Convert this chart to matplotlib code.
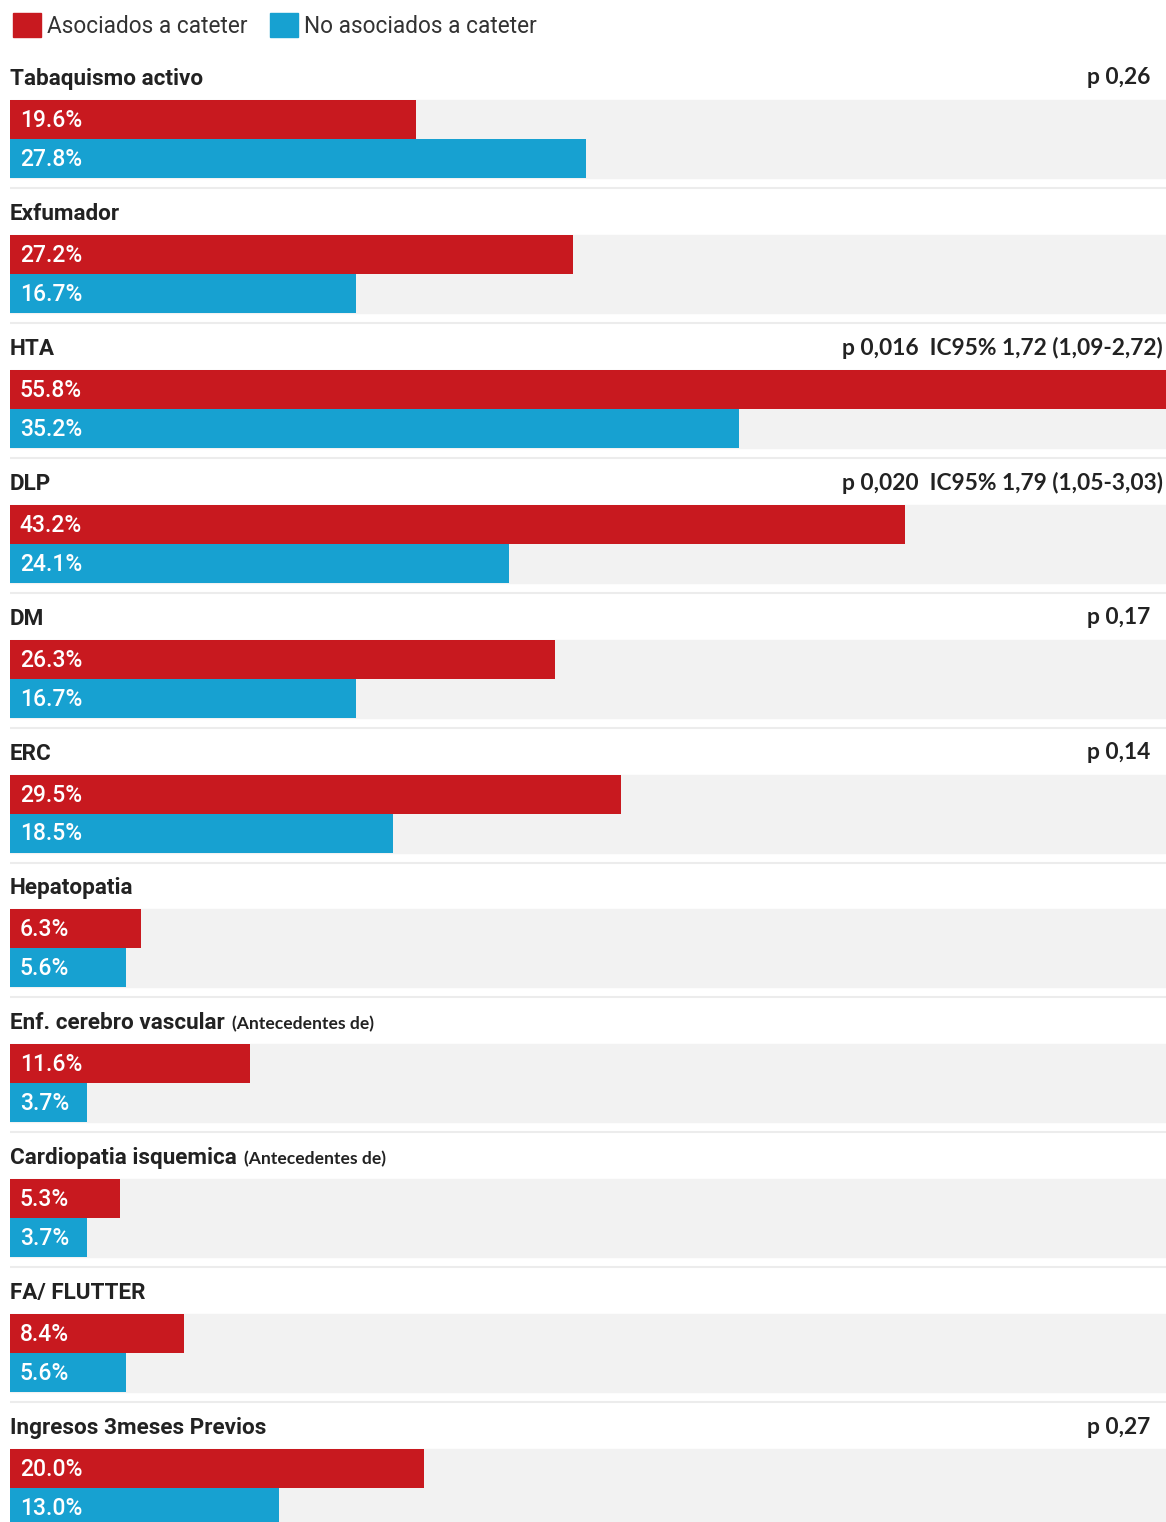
import matplotlib.pyplot as plt
from matplotlib.patches import Patch

categories = ["Tabaquismo activo", "Exfumador", "HTA", "DLP", "DM", "ERC",
              "Hepatopatia", "Enf. cerebro vascular", "Cardiopatia isquemica",
              "FA/ FLUTTER", "Ingresos 3meses Previos"]
notes = ["", "", "", "", "", "", "", "(Antecedentes de)", "(Antecedentes de)", "", ""]
asociados = [19.6, 27.2, 55.8, 43.2, 26.3, 29.5, 6.3, 11.6, 5.3, 8.4, 20.0]
no_asociados = [27.8, 16.7, 35.2, 24.1, 16.7, 18.5, 5.6, 3.7, 3.7, 5.6, 13.0]
stats = ["p 0,26", "", "p 0,016  IC95% 1,72 (1,09-2,72)",
         "p 0,020  IC95% 1,79 (1,05-3,03)", "p 0,17", "p 0,14", "", "", "", "", "p 0,27"]

RED = "#c8191f"
BLUE = "#17a1d1"
GREY = "#f2f2f2"
TXT = "#222222"

W, H = 1166, 1522
fig = plt.figure(figsize=(W / 100, H / 100), dpi=100)
ax = fig.add_axes([10 / W, 0, 1 - 10 / W, 1])
xmax = max(asociados)
ax.set_xlim(0, xmax)
ax.set_ylim(H, 0)  # vertical layout in pixels
ax.axis("off")

pitch = 134.9
bar_h = 39
for i, cat in enumerate(categories):
    top = 100 + i * pitch
    ax.axhspan(top, top + 2 * bar_h, color=GREY, zorder=0)
    ax.barh(top + bar_h / 2, asociados[i], height=bar_h, color=RED, zorder=2)
    ax.barh(top + 1.5 * bar_h, no_asociados[i], height=bar_h, color=BLUE, zorder=2)
    ax.annotate(f"{asociados[i]:.1f}%", (0, top + bar_h / 2 + 1), xytext=(7, 0),
                textcoords="offset points", va="center", ha="left", color="white",
                fontsize=16.5, family="Roboto", fontweight="medium", zorder=3)
    ax.annotate(f"{no_asociados[i]:.1f}%", (0, top + 1.5 * bar_h + 1), xytext=(7, 0),
                textcoords="offset points", va="center", ha="left", color="white",
                fontsize=16.5, family="Roboto", fontweight="medium", zorder=3)
    t = ax.text(0, top - 21, cat, va="center", ha="left", color=TXT,
                fontsize=16.2, family="Roboto", fontweight="bold")
    if notes[i]:
        ax.annotate(notes[i], xy=(1, 0.1), xycoords=t, xytext=(5, 0),
                    textcoords="offset points", va="bottom", ha="left", color=TXT,
                    fontsize=12.6, family="Lato", fontweight="bold")
    if stats[i]:
        ax.annotate(stats[i], (xmax, top - 22), xytext=(-2 if "IC" in stats[i] else -11, 0),
                    textcoords="offset points", va="center", ha="right", color=TXT,
                    fontsize=16.4, family="Lato", fontweight="bold")
    ax.axhline(top + 2 * bar_h + 10, color="#ececec", lw=1.5, zorder=1)

handles = [Patch(color=RED, label="Asociados a cateter"),
           Patch(color=BLUE, label="No asociados a cateter")]
leg = fig.legend(handles=handles, loc="upper left", bbox_to_anchor=(4 / W, 1 - 4 / H),
                 ncol=2, frameon=False, handlelength=1.25, handleheight=1.25,
                 handletextpad=0.25, columnspacing=1.0, borderaxespad=0,
                 prop={"family": "Roboto", "size": 16.3})
for txt in leg.get_texts():
    txt.set_color("#333333")

plt.savefig("out.png", dpi=100, facecolor="white")
